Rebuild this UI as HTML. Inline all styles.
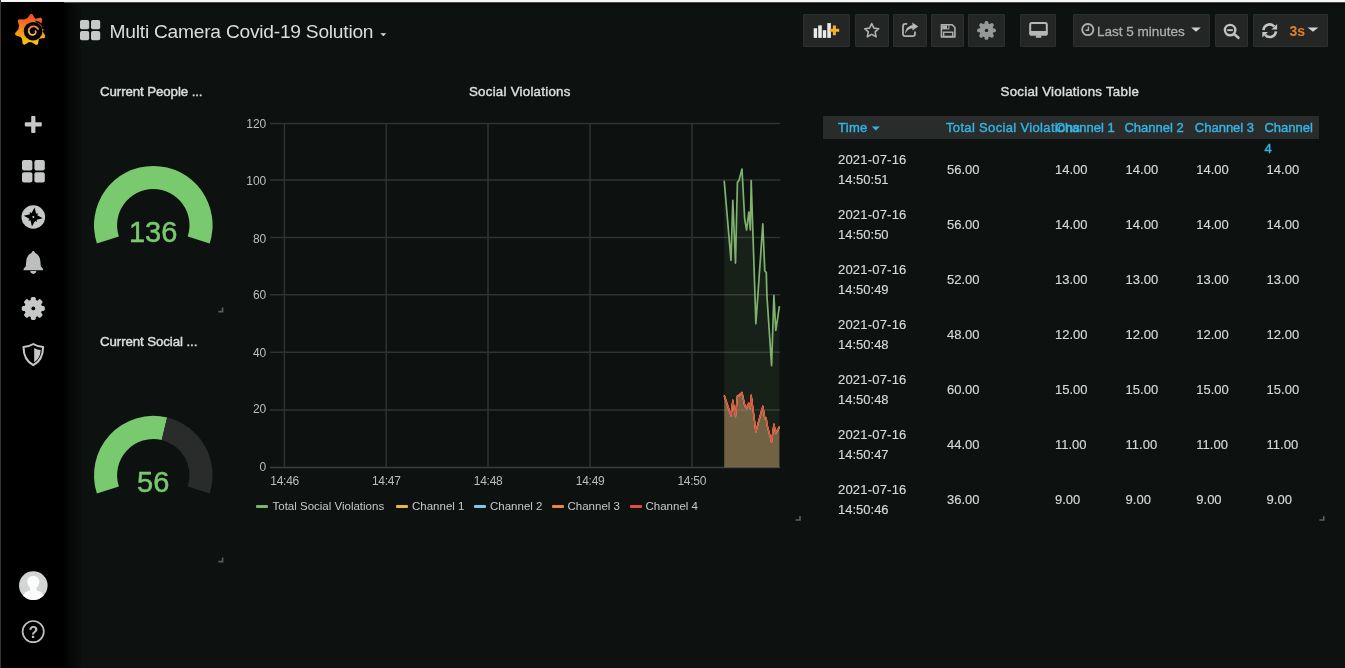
<!DOCTYPE html>
<html><head><meta charset="utf-8"><title>Multi Camera Covid-19 Solution - Grafana</title>
<style>
*{box-sizing:border-box;margin:0;padding:0}
html,body{width:1345px;height:668px;overflow:hidden}
body{background:#0d1110;font-family:"Liberation Sans",Arial,sans-serif;color:#d8d9da;position:relative}
.abs{position:absolute}
#topstrip{left:0;top:0;width:1345px;height:3px;background:linear-gradient(to bottom,#f7f7f7 0,#f5f5f5 1.7px,#5a5c5b 2.4px,#040505 3px)}
#topline{left:0;top:3px;width:1345px;height:6px;background:linear-gradient(to bottom,#060807,#0b0e0d 30%,#0d1110)}
#side{left:0;top:2px;width:64px;height:666px;background:#000}
#sideedge{left:0;top:0;width:1px;height:668px;background:#3b3433}
#sideshadow{left:64px;top:3px;width:17px;height:665px;background:linear-gradient(to right,#010302,#060907 45%,#0b0e0c)}
.btn{position:absolute;top:14px;height:33px;background:#232624;border:1px solid #2c2f2d;border-radius:1px}
.ptitle{position:absolute;font-size:13.3px;font-weight:400;color:#dcdddd;-webkit-text-stroke:0.45px #dcdddd;white-space:nowrap;line-height:15px}
.handle{position:absolute;width:4px;height:4px;border-right:1px solid #8a8a8a;border-bottom:1px solid #8a8a8a}
.gv{position:absolute;font-size:29px;color:#79c96f;text-align:center;width:100px;-webkit-text-stroke:0.5px #79c96f}
.th{position:absolute;top:120.2px;font-size:13px;font-weight:400;color:#33b5e5;-webkit-text-stroke:0.4px #33b5e5;white-space:nowrap;line-height:15px}
.cell{position:absolute;font-size:13px;color:#d8d9da;-webkit-text-stroke:0.15px #d8d9da;white-space:nowrap;line-height:20px}
.lg{position:absolute;top:499.6px;font-size:11.5px;color:#c8c9ca;white-space:nowrap;line-height:13px}
.lgm{position:absolute;top:505.3px;width:12px;height:3px;border-radius:1px}
</style></head>
<body>
<div id="topstrip" class="abs"></div>
<div id="topline" class="abs"></div>
<div id="side" class="abs"></div>
<div id="sideedge" class="abs"></div>
<div id="sideshadow" class="abs"></div>

<!-- sidebar icons -->
<svg class="abs" style="left:0;top:0" width="64" height="668" viewBox="0 0 64 668">
  <defs>
    <linearGradient id="glogo" x1="0" y1="0" x2="0" y2="1">
      <stop offset="0" stop-color="#ef4a2c"/>
      <stop offset="1" stop-color="#fbca0a"/>
    </linearGradient>
    <linearGradient id="glogo2" x1="0" y1="0" x2="0" y2="1">
      <stop offset="0" stop-color="#f47a5a"/>
      <stop offset="1" stop-color="#f6c14a"/>
    </linearGradient>
  </defs>
  <!-- grafana logo -->
  <g>
    <path fill="url(#glogo)" d="M42.71,31.49 L45.38,36.12 L44.53,37.88 L39.23,38.63 L38.92,38.92 L37.99,44.19 L36.20,44.99 L31.66,42.15 L30.39,42.20 L29.11,42.11 L24.48,44.78 L22.72,43.93 L21.97,38.63 L20.55,36.91 L15.47,35.21 L14.95,33.33 L18.42,29.26 L18.66,27.48 L19.16,25.77 L17.62,20.64 L18.86,19.13 L24.19,19.62 L25.67,18.84 L27.24,18.27 L30.46,14.00 L32.41,14.10 L35.17,18.69 L35.45,18.80 L40.65,17.55 L42.09,18.87 L41.31,24.16 L43.24,26.20 L43.75,28.88 Z"/>
    <circle cx="33.1" cy="31.2" r="9.3" fill="#000"/>
    <path d="M35.5,21.3 A10.4,10.4 0 0 1 43.6,29.0" fill="none" stroke="#000" stroke-width="1.6"/>
    <path d="M38.08,29.03 L37.61,28.35 L37.05,27.75 L36.42,27.25 L35.73,26.86 L35.00,26.57 L34.25,26.40 L33.49,26.35 L32.74,26.41 L32.02,26.57 L31.34,26.84 L30.72,27.20 L30.17,27.65 L29.70,28.16 L29.32,28.73 L29.03,29.33 L28.84,29.97 L28.75,30.61 L28.75,31.25 L28.85,31.87 L29.04,32.46 L29.31,33.00 L29.65,33.49 L30.05,33.92 L30.51,34.27 L31.00,34.54 L31.52,34.73 L32.04,34.84 L32.57,34.87 L33.09,34.82 L33.58,34.70 L34.04,34.51 L34.45,34.25 L34.81,33.94 L35.12,33.59 L35.36,33.21 L35.54,32.81 L35.65,32.39 L35.69,31.97 L35.67,31.56 L35.59,31.17" fill="none" stroke="url(#glogo2)" stroke-width="1.8" stroke-linecap="round" stroke-linejoin="round"/>
  </g>
  <!-- plus -->
  <rect x="24.8" y="122.2" width="17" height="4.2" rx="0.8" fill="#c7c9c8"/>
  <rect x="31.2" y="116" width="4.2" height="17" rx="0.8" fill="#c7c9c8"/>
  <!-- dashboards grid -->
  <rect x="22" y="160" width="10.4" height="10.4" rx="2" fill="#c7c9c8"/>
  <rect x="34.4" y="160" width="10.4" height="10.4" rx="2" fill="#c7c9c8"/>
  <rect x="22" y="172.2" width="10.4" height="10.4" rx="2" fill="#c7c9c8"/>
  <rect x="34.4" y="172.2" width="10.4" height="10.4" rx="2" fill="#c7c9c8"/>
  <!-- compass -->
  <circle cx="33.3" cy="217" r="11.8" fill="#c7c9c8"/>
  <g transform="translate(33.3,217) rotate(8)">
    <path d="M0,-9.6 L2.7,-2.7 L9.6,0 L2.7,2.7 L0,9.6 L-2.7,2.7 L-9.6,0 L-2.7,-2.7 Z" fill="#000"/>
    <path d="M0,-6.2 L2,-2 L6.2,0 L2,2 L0,6.2 L-2,2 L-6.2,0 L-2,-2 Z" fill="#000" transform="rotate(45)"/>
    <circle r="1" fill="#c7c9c8"/>
  </g>
  <!-- bell -->
  <path d="M33.3,251 C34.5,251 35,252 35,253 C38.5,254.3 40.2,257.5 40.4,261.5 L40.8,266.2 L43,268.8 L43,270.2 L23.6,270.2 L23.6,268.8 L25.8,266.2 L26.2,261.5 C26.4,257.5 28.1,254.3 31.6,253 C31.6,252 32.1,251 33.3,251 Z" fill="#bcbfbd"/>
  <path d="M30.3,271.1 L36.3,271.1 C36.3,272.9 35,273.9 33.3,273.9 C31.6,273.9 30.3,272.9 30.3,271.1 Z" fill="#bcbfbd"/>
  <!-- gear -->
  <g transform="translate(33.3,308.4)">
    <g fill="#c7c9c8">
      <circle r="8.9"/>
      <rect x="-2.5" y="-11.5" width="5" height="23" rx="1.6"/>
      <rect x="-2.5" y="-11.5" width="5" height="23" rx="1.6" transform="rotate(45)"/>
      <rect x="-2.5" y="-11.5" width="5" height="23" rx="1.6" transform="rotate(90)"/>
      <rect x="-2.5" y="-11.5" width="5" height="23" rx="1.6" transform="rotate(135)"/>
    </g>
    <circle r="1.9" fill="#000"/>
  </g>
  <!-- shield -->
  <path d="M33.3,344 C36.6,346 39.8,347 43.1,347 C43.1,356.2 39.6,361.8 33.3,365.2 C27,361.8 23.5,356.2 23.5,347 C26.8,347 30,346 33.3,344 Z" fill="none" stroke="#c7c9c8" stroke-width="2" stroke-linejoin="round"/>
  <path d="M34.2,348 C36.4,349.3 38.4,349.9 40.7,350 C40.5,355.6 38.3,359.6 34.2,362.3 Z" fill="#c7c9c8"/>
  <!-- avatar -->
  <circle cx="33.3" cy="585.6" r="14.3" fill="#d3d5d4"/>
  <clipPath id="avc"><circle cx="33.3" cy="585.6" r="14.3"/></clipPath>
  <g clip-path="url(#avc)" fill="#fcfcfc">
    <ellipse cx="33.3" cy="582" rx="6.1" ry="6.3"/>
    <rect x="30" y="585" width="6.6" height="6"/>
    <path d="M20.6,603 C21,594.5 25.8,590 33.3,590 C40.8,590 45.6,594.5 46,603 Z"/>
  </g>
  <!-- help -->
  <circle cx="33.2" cy="631.6" r="10.6" fill="none" stroke="#bfc1c1" stroke-width="1.7"/>
  <text x="33.3" y="637.8" text-anchor="middle" font-family="Liberation Sans, Arial, sans-serif" font-size="16" font-weight="700" fill="#bfc1c1">?</text>
</svg>

<!-- top nav -->
<svg class="abs" style="left:80px;top:20px" width="21" height="21" viewBox="0 0 21 21">
  <rect x="0" y="0" width="9.2" height="9.2" rx="1.8" fill="#c7c9c8"/>
  <rect x="11" y="0" width="9.2" height="9.2" rx="1.8" fill="#c7c9c8"/>
  <rect x="0" y="11" width="9.2" height="9.2" rx="1.8" fill="#c7c9c8"/>
  <rect x="11" y="11" width="9.2" height="9.2" rx="1.8" fill="#c7c9c8"/>
</svg>
<div class="abs" style="left:109.6px;top:19.7px;font-size:19.2px;letter-spacing:-0.24px;line-height:23px;color:#dcdddd;white-space:nowrap">Multi Camera Covid-19 Solution</div>
<svg class="abs" style="left:380px;top:33px" width="7" height="4" viewBox="0 0 7 4"><path d="M0.3,0.3 L6.3,0.3 L3.3,3.3 Z" fill="#d8d9da"/></svg>

<!-- nav buttons -->
<div class="btn" style="left:803px;width:47px"></div>
<div class="btn" style="left:855px;width:34px"></div>
<div class="btn" style="left:893px;width:34px"></div>
<div class="btn" style="left:931px;width:33px"></div>
<div class="btn" style="left:968px;width:37px"></div>
<div class="btn" style="left:1020px;width:36px"></div>
<div class="btn" style="left:1073px;width:137px"></div>
<div class="btn" style="left:1215px;width:33px"></div>
<div class="btn" style="left:1253px;width:75px"></div>

<svg class="abs" style="left:800px;top:10px" width="540" height="42" viewBox="800 10 540 42">
  <!-- add panel -->
  <g fill="#e9ebea">
    <rect x="813.7" y="28.2" width="3.4" height="9.7"/>
    <rect x="818.2" y="25.4" width="3.6" height="12.5"/>
    <rect x="822.8" y="30.2" width="3.4" height="7.7"/>
    <rect x="827.3" y="23.1" width="3.6" height="14.8"/>
  </g>
  <path d="M832.9,25.4 h3 v3.3 h3.3 v3 h-3.3 v3.5 h-3 v-3.5 h-3.3 v-3 h3.3 Z" fill="#f5b12a"/>
  <!-- star -->
  <path d="M871.7,23.6 L873.9,28.1 L878.7,28.7 L875.1,31.9 L876.1,36.8 L871.7,34.4 L867.3,36.8 L868.3,31.9 L864.7,28.7 L869.5,28.1 Z" fill="none" stroke="#b0b2b1" stroke-width="1.6" stroke-linejoin="round"/>
  <!-- share -->
  <path d="M907.2,23.9 L905.4,23.9 Q903,23.9 903,26.3 L903,33.7 Q903,36.1 905.4,36.1 L912.6,36.1 Q915,36.1 915,33.7 L915,31.4" fill="none" stroke="#b0b2b1" stroke-width="1.8"/>
  <path d="M905.2,33.8 C905.3,28.6 908.2,25.9 912.4,25.2 L912.4,22.4 L918.2,26.4 L912.4,30.6 L912.4,28.3 C909.2,28.4 906.8,30.2 905.2,33.8 Z" fill="#b8bab9"/>
  <!-- save -->
  <path d="M941.4,24.8 L952.2,24.8 L954.9,27.5 L954.9,37 L941.4,37 Z" fill="none" stroke="#b0b2b1" stroke-width="1.6" stroke-linejoin="round"/>
  <rect x="942.2" y="25.4" width="7.2" height="4" fill="#b0b2b1"/>
  <rect x="947" y="25.8" width="1.4" height="2.6" fill="#232624"/>
  <rect x="943.6" y="32.2" width="9.2" height="4.2" fill="none" stroke="#b0b2b1" stroke-width="1.4"/>
  <!-- settings gear -->
  <g transform="translate(986.5,30.4)">
    <g fill="#959997">
      <circle r="7.1"/>
      <rect x="-1.9" y="-9.4" width="3.8" height="18.8" rx="1.6"/>
      <rect x="-1.9" y="-9.4" width="3.8" height="18.8" rx="1.6" transform="rotate(45)"/>
      <rect x="-1.9" y="-9.4" width="3.8" height="18.8" rx="1.6" transform="rotate(90)"/>
      <rect x="-1.9" y="-9.4" width="3.8" height="18.8" rx="1.6" transform="rotate(135)"/>
    </g>
    <circle r="1.7" fill="#1c1e1d"/>
  </g>
  <!-- monitor -->
  <rect x="1030.2" y="23" width="16.6" height="11.6" rx="1.6" fill="none" stroke="#b5b7b7" stroke-width="2"/>
  <rect x="1029.6" y="31" width="17.8" height="4.4" rx="1" fill="#b5b7b7"/>
  <path d="M1036.4,35.2 L1040.8,35.2 L1041.6,37.8 L1035.6,37.8 Z" fill="#b5b7b7"/>
  <!-- clock -->
  <circle cx="1087.8" cy="29.6" r="5.6" fill="none" stroke="#b0b2b1" stroke-width="1.8"/>
  <path d="M1088.4,26.4 L1088.4,30.2 L1085.6,30.2" fill="none" stroke="#b0b2b1" stroke-width="1.4"/>
  <!-- time caret -->
  <path d="M1191.2,27.6 L1200.8,27.6 L1196,31.8 Z" fill="#d0d2d2"/>
  <!-- zoom out -->
  <circle cx="1230.1" cy="30.1" r="5.2" fill="none" stroke="#c2c4c4" stroke-width="2.4"/>
  <path d="M1234,34 L1238.4,37.8" stroke="#c2c4c4" stroke-width="2.6" stroke-linecap="round"/>
  <rect x="1227.3" y="29.2" width="5.6" height="1.9" fill="#c2c4c4"/>
  <!-- refresh -->
  <g transform="translate(1269.7,30.7)" fill="#c4c6c5">
    <g>
      <path d="M-6.2,-0.6 A6.2,6.2 0 0 1 4.6,-4.2" fill="none" stroke="#c4c6c5" stroke-width="2.6"/>
      <path d="M7.4,-6.8 L7.4,-1.2 L1.8,-1.2 Z"/>
    </g>
    <g transform="rotate(180)">
      <path d="M-6.2,-0.6 A6.2,6.2 0 0 1 4.6,-4.2" fill="none" stroke="#c4c6c5" stroke-width="2.6"/>
      <path d="M7.4,-6.8 L7.4,-1.2 L1.8,-1.2 Z"/>
    </g>
  </g>
  <!-- refresh caret -->
  <path d="M1307.6,27.6 L1318.4,27.6 L1313,31.8 Z" fill="#d0d2d2"/>
</svg>
<div class="abs" style="left:1097px;top:23.5px;font-size:13.5px;line-height:16px;color:#abafad;-webkit-text-stroke:0.3px #abafad;white-space:nowrap">Last 5 minutes</div>
<div class="abs" style="left:1289.5px;top:23px;font-size:14px;line-height:16px;font-weight:700;color:#e58027;white-space:nowrap">3s</div>

<!-- panel titles -->
<div class="ptitle" style="left:100px;top:84px;letter-spacing:-0.1px">Current People ...</div>
<div class="ptitle" style="left:100px;top:334px;letter-spacing:-0.1px">Current Social ...</div>
<div class="ptitle" style="left:469px;top:84px;letter-spacing:0.25px">Social Violations</div>
<div class="ptitle" style="left:1000.5px;top:84px;letter-spacing:0.26px">Social Violations Table</div>

<!-- gauges -->
<svg class="abs" style="left:80px;top:140px" width="160" height="380" viewBox="80 140 160 380">
  <!-- gauge 1: full -->
  <path d="M96.90,243.52 A59.3,59.3 0 1 1 209.70,243.52 L187.73,236.39 A36.2,36.2 0 1 0 118.87,236.39 Z" fill="#79c96f"/>
  <!-- gauge 2 -->
  <path d="M96.90,493.52 A59.3,59.3 0 0 1 167.14,417.54 L161.75,440.00 A36.2,36.2 0 0 0 118.87,486.39 Z" fill="#79c96f"/>
  <path d="M167.14,417.54 A59.3,59.3 0 0 1 209.70,493.52 L187.73,486.39 A36.2,36.2 0 0 0 161.75,440.00 Z" fill="#2a2c2b"/>
</svg>
<div class="gv" style="left:103.2px;top:215px;line-height:34px">136</div>
<div class="gv" style="left:103.2px;top:465px;line-height:34px">56</div>
<svg class="abs" style="left:0;top:0" width="1345" height="668" viewBox="0 0 1345 668"><g fill="none" stroke="#5c5f5e" stroke-width="1.6">
<path d="M218.4,311.6 H222.6 V307.6"/><path d="M218.4,561.6 H222.6 V557.6"/><path d="M795.4,520 H800 V516"/><path d="M1319.4,520 H1323.8 V516"/></g></svg>

<!-- graph -->
<svg class="abs" style="left:235px;top:110px" width="560" height="420" viewBox="235 110 560 420" font-family="Liberation Sans, Arial, sans-serif">
  <g stroke="#2f3332" stroke-width="1.5">
    <path d="M270,123.5 H780.3 M270,179.9 H780.3 M270,237.6 H780.3 M270,294.7 H780.3 M270,352.3 H780.3 M270,410 H780.3"/>
    <path d="M284.4,123.5 V467.4 M386.2,123.5 V467.4 M488,123.5 V467.4 M590,123.5 V467.4 M692,123.5 V467.4"/>
  </g>
  <path d="M270,467.4 H780.3" stroke="#3c3f3f" stroke-width="1.5"/>
  <g font-size="12" fill="#bcbebd" text-anchor="end">
    <text x="266.3" y="127.6">120</text>
    <text x="266.3" y="185.2">100</text>
    <text x="266.3" y="242.6">80</text>
    <text x="266.3" y="299.4">60</text>
    <text x="266.3" y="357.1">40</text>
    <text x="266.3" y="413.4">20</text>
    <text x="266.3" y="470.6">0</text>
  </g>
  <g font-size="12" fill="#bcbebd" text-anchor="middle" letter-spacing="-0.25">
    <text x="284.6" y="485.1">14:46</text>
    <text x="386.3" y="485.1">14:47</text>
    <text x="488.1" y="485.1">14:48</text>
    <text x="590.1" y="485.1">14:49</text>
    <text x="691.8" y="485.1">14:50</text>
  </g>
  <g id="series"><polygon points="724.2,467.2 724.2,180.6 731.0,260.4 732.8,200.4 735.5,263.1 737.4,182.4 738.9,180.6 742.0,169.0 744.7,219.2 746.6,230.0 748.8,212.0 750.3,230.0 751.2,180.6 755.9,323.8 762.8,223.8 764.8,271.0 766.3,272.4 766.9,295.4 771.6,365.7 773.9,295.4 775.8,330.5 779.4,306.2 779.4,467.2" fill="#7eb26d" fill-opacity="0.1"/><polygon points="724.2,467.2 724.2,395.5 731.0,415.5 732.8,400.5 735.5,416.2 737.4,396.0 738.9,395.5 742.0,392.6 744.7,405.2 746.6,407.9 748.8,403.4 750.3,407.9 751.2,395.5 755.9,431.4 762.8,406.4 764.8,418.1 766.3,418.5 766.9,424.2 771.6,441.8 773.9,424.2 775.8,433.0 779.4,426.9 779.4,467.2" fill="#c9a36e" fill-opacity="0.5"/><polyline points="724.2,180.6 731.0,260.4 732.8,200.4 735.5,263.1 737.4,182.4 738.9,180.6 742.0,169.0 744.7,219.2 746.6,230.0 748.8,212.0 750.3,230.0 751.2,180.6 755.9,323.8 762.8,223.8 764.8,271.0 766.3,272.4 766.9,295.4 771.6,365.7 773.9,295.4 775.8,330.5 779.4,306.2" fill="none" stroke="#7eb26d" stroke-width="1.7" stroke-linejoin="round"/><polyline points="724.2,396.1 731.0,416.1 732.8,401.1 735.5,416.8 737.4,396.6 738.9,396.1 742.0,393.2 744.7,405.8 746.6,408.5 748.8,404.0 750.3,408.5 751.2,396.1 755.9,432.0 762.8,407.0 764.8,418.8 766.3,419.1 766.9,424.9 771.6,442.4 773.9,424.9 775.8,433.6 779.4,427.6" fill="none" stroke="#6ed0e0" stroke-width="1.3" stroke-linejoin="round"/><polyline points="724.2,395.0 731.0,415.0 732.8,400.0 735.5,415.7 737.4,395.5 738.9,395.0 742.0,392.1 744.7,404.7 746.6,407.4 748.8,402.9 750.3,407.4 751.2,395.0 755.9,430.9 762.8,405.9 764.8,417.6 766.3,418.0 766.9,423.8 771.6,441.3 773.9,423.8 775.8,432.5 779.4,426.4" fill="none" stroke="#eab839" stroke-width="1.3" stroke-linejoin="round"/><polyline points="724.2,395.8 731.0,415.8 732.8,400.8 735.5,416.5 737.4,396.3 738.9,395.8 742.0,392.9 744.7,405.5 746.6,408.2 748.8,403.7 750.3,408.2 751.2,395.8 755.9,431.7 762.8,406.7 764.8,418.4 766.3,418.8 766.9,424.6 771.6,442.1 773.9,424.6 775.8,433.3 779.4,427.2" fill="none" stroke="#ef843c" stroke-width="1.3" stroke-linejoin="round"/><polyline points="724.2,395.5 731.0,415.5 732.8,400.5 735.5,416.2 737.4,396.0 738.9,395.5 742.0,392.6 744.7,405.2 746.6,407.9 748.8,403.4 750.3,407.9 751.2,395.5 755.9,431.4 762.8,406.4 764.8,418.1 766.3,418.5 766.9,424.2 771.6,441.8 773.9,424.2 775.8,433.0 779.4,426.9" fill="none" stroke="#e24d42" stroke-width="1.3" stroke-linejoin="round"/></g>
</svg>

<!-- legend -->
<div class="lgm" style="left:256px;background:#7eb26d"></div>
<div class="lg" style="left:272.5px">Total Social Violations</div>
<div class="lgm" style="left:396px;background:#eab839"></div>
<div class="lg" style="left:412px">Channel 1</div>
<div class="lgm" style="left:474px;background:#6ed0e0"></div>
<div class="lg" style="left:490px">Channel 2</div>
<div class="lgm" style="left:551.5px;background:#ef843c"></div>
<div class="lg" style="left:567.5px">Channel 3</div>
<div class="lgm" style="left:629.5px;background:#e24d42"></div>
<div class="lg" style="left:645.5px">Channel 4</div>

<!-- table -->
<div class="abs" style="left:823px;top:116px;width:496px;height:23px;background:#2a2b2b"></div>
<div class="th" style="left:838px;letter-spacing:0.3px">Time</div>
<svg class="abs" style="left:871px;top:126px" width="10" height="5" viewBox="0 0 10 5"><path d="M0.8,0.4 L8.8,0.4 L4.8,4.4 Z" fill="#33b5e5"/></svg>
<div class="th" style="left:946px;letter-spacing:0.34px">Total Social Violations</div>
<div class="th" style="left:1055.5px">Channel 1</div>
<div class="th" style="left:1124.4px">Channel 2</div>
<div class="th" style="left:1194.8px">Channel 3</div>
<div class="th" style="left:1264.4px;line-height:21.6px;top:116.8px">Channel<br>4</div>
<div id="rows">
<div class="cell" style="left:838px;top:149.6px"><span style="letter-spacing:0.2px">2021-07-16</span><br>14:50:51</div>
<div class="cell" style="left:947px;top:160.4px">56.00</div>
<div class="cell" style="left:1055px;top:160.4px">14.00</div>
<div class="cell" style="left:1125.6px;top:160.4px">14.00</div>
<div class="cell" style="left:1196.3px;top:160.4px">14.00</div>
<div class="cell" style="left:1266.6px;top:160.4px">14.00</div>
<div class="cell" style="left:838px;top:204.6px"><span style="letter-spacing:0.2px">2021-07-16</span><br>14:50:50</div>
<div class="cell" style="left:947px;top:215.4px">56.00</div>
<div class="cell" style="left:1055px;top:215.4px">14.00</div>
<div class="cell" style="left:1125.6px;top:215.4px">14.00</div>
<div class="cell" style="left:1196.3px;top:215.4px">14.00</div>
<div class="cell" style="left:1266.6px;top:215.4px">14.00</div>
<div class="cell" style="left:838px;top:259.6px"><span style="letter-spacing:0.2px">2021-07-16</span><br>14:50:49</div>
<div class="cell" style="left:947px;top:270.4px">52.00</div>
<div class="cell" style="left:1055px;top:270.4px">13.00</div>
<div class="cell" style="left:1125.6px;top:270.4px">13.00</div>
<div class="cell" style="left:1196.3px;top:270.4px">13.00</div>
<div class="cell" style="left:1266.6px;top:270.4px">13.00</div>
<div class="cell" style="left:838px;top:314.6px"><span style="letter-spacing:0.2px">2021-07-16</span><br>14:50:48</div>
<div class="cell" style="left:947px;top:325.4px">48.00</div>
<div class="cell" style="left:1055px;top:325.4px">12.00</div>
<div class="cell" style="left:1125.6px;top:325.4px">12.00</div>
<div class="cell" style="left:1196.3px;top:325.4px">12.00</div>
<div class="cell" style="left:1266.6px;top:325.4px">12.00</div>
<div class="cell" style="left:838px;top:369.6px"><span style="letter-spacing:0.2px">2021-07-16</span><br>14:50:48</div>
<div class="cell" style="left:947px;top:380.4px">60.00</div>
<div class="cell" style="left:1055px;top:380.4px">15.00</div>
<div class="cell" style="left:1125.6px;top:380.4px">15.00</div>
<div class="cell" style="left:1196.3px;top:380.4px">15.00</div>
<div class="cell" style="left:1266.6px;top:380.4px">15.00</div>
<div class="cell" style="left:838px;top:424.6px"><span style="letter-spacing:0.2px">2021-07-16</span><br>14:50:47</div>
<div class="cell" style="left:947px;top:435.4px">44.00</div>
<div class="cell" style="left:1055px;top:435.4px">11.00</div>
<div class="cell" style="left:1125.6px;top:435.4px">11.00</div>
<div class="cell" style="left:1196.3px;top:435.4px">11.00</div>
<div class="cell" style="left:1266.6px;top:435.4px">11.00</div>
<div class="cell" style="left:838px;top:479.6px"><span style="letter-spacing:0.2px">2021-07-16</span><br>14:50:46</div>
<div class="cell" style="left:947px;top:490.4px">36.00</div>
<div class="cell" style="left:1055px;top:490.4px">9.00</div>
<div class="cell" style="left:1125.6px;top:490.4px">9.00</div>
<div class="cell" style="left:1196.3px;top:490.4px">9.00</div>
<div class="cell" style="left:1266.6px;top:490.4px">9.00</div>
</div>
</body></html>
